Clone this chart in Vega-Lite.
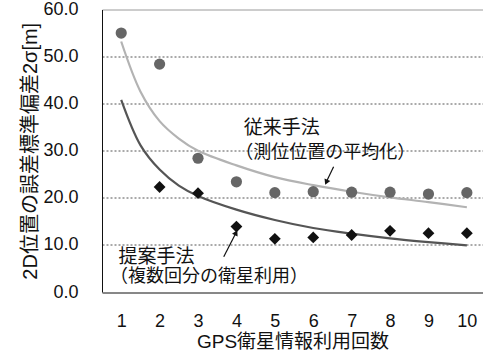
{
  "$schema": "https://vega.github.io/schema/vega-lite/v6.json",
  "autosize": {"type": "none"},
  "padding": {"left": 102, "top": 9.5, "right": 0, "bottom": 65},
  "width": 381,
  "height": 282.5,
  "background": "white",
  "config": {
    "font": "Liberation Sans, Noto Sans CJK JP",
    "view": {"stroke": null},
    "axis": {"labelFont": "Liberation Sans, Noto Sans CJK JP", "titleFont": "Liberation Sans, Noto Sans CJK JP", "labelColor": "#111", "titleColor": "#111", "titleFontWeight": "normal"}
  },
  "datasets": {
    "points": [
      {"series": "従来手法", "n": 1, "value": 55.0},
      {"series": "従来手法", "n": 2, "value": 48.4},
      {"series": "従来手法", "n": 3, "value": 28.4},
      {"series": "従来手法", "n": 4, "value": 23.4},
      {"series": "従来手法", "n": 5, "value": 21.1},
      {"series": "従来手法", "n": 6, "value": 21.3},
      {"series": "従来手法", "n": 7, "value": 21.2},
      {"series": "従来手法", "n": 8, "value": 21.2},
      {"series": "従来手法", "n": 9, "value": 20.8},
      {"series": "従来手法", "n": 10, "value": 21.1},
      {"series": "提案手法", "n": 2, "value": 22.3},
      {"series": "提案手法", "n": 3, "value": 21.0},
      {"series": "提案手法", "n": 4, "value": 13.9},
      {"series": "提案手法", "n": 5, "value": 11.3},
      {"series": "提案手法", "n": 6, "value": 11.6},
      {"series": "提案手法", "n": 7, "value": 12.1},
      {"series": "提案手法", "n": 8, "value": 13.0},
      {"series": "提案手法", "n": 9, "value": 12.5},
      {"series": "提案手法", "n": 10, "value": 12.5}
    ],
    "curves": [
      {"series": "従来手法", "n": 1, "value": 53.2},
      {"series": "従来手法", "n": 1.5, "value": 42.6},
      {"series": "従来手法", "n": 2, "value": 36.3},
      {"series": "従来手法", "n": 2.5, "value": 32.6},
      {"series": "従来手法", "n": 3, "value": 30.0},
      {"series": "従来手法", "n": 4, "value": 26.9},
      {"series": "従来手法", "n": 5, "value": 24.4},
      {"series": "従来手法", "n": 6, "value": 22.7},
      {"series": "従来手法", "n": 7, "value": 21.3},
      {"series": "従来手法", "n": 8, "value": 20.1},
      {"series": "従来手法", "n": 9, "value": 19.1},
      {"series": "従来手法", "n": 10, "value": 18.0},
      {"series": "提案手法", "n": 1, "value": 40.8},
      {"series": "提案手法", "n": 1.5, "value": 31.2},
      {"series": "提案手法", "n": 2, "value": 26.0},
      {"series": "提案手法", "n": 2.5, "value": 22.6},
      {"series": "提案手法", "n": 3, "value": 20.4},
      {"series": "提案手法", "n": 4, "value": 17.5},
      {"series": "提案手法", "n": 5, "value": 15.3},
      {"series": "提案手法", "n": 6, "value": 13.6},
      {"series": "提案手法", "n": 7, "value": 12.4},
      {"series": "提案手法", "n": 8, "value": 11.4},
      {"series": "提案手法", "n": 9, "value": 10.6},
      {"series": "提案手法", "n": 10, "value": 9.9}
    ]
  },
  "layer": [
    {
      "encoding": {
        "x": {
          "field": "n", "type": "quantitative",
          "scale": {"domain": [0.5, 10.42], "nice": false, "zero": false},
          "axis": {
            "title": "GPS衛星情報利用回数",
            "titleFontSize": 19,
            "titlePadding": 2,
            "values": [1, 1.5, 2, 2.5, 3, 3.5, 4, 4.5, 5, 5.5, 6, 6.5, 7, 7.5, 8, 8.5, 9, 9.5, 10],
            "labelExpr": "datum.value % 1 === 0 ? format(datum.value, 'd') : ''",
            "labelFontSize": 18,
            "labelPadding": 20,
            "labelFlush": false,
            "labelOverlap": false,
            "grid": false,
            "domain": false,
            "offset": -6,
            "tickColor": "#111",
            "tickSize": 6,
            "tickOpacity": {"condition": {"test": "datum.value % 1 !== 0", "value": 1}, "value": 0}
          }
        },
        "y": {
          "field": "value", "type": "quantitative",
          "scale": {"domain": [0, 60], "nice": false},
          "axis": {
            "title": "2D位置の誤差標準偏差2σ[m]",
            "titleFontSize": 20,
            "titlePadding": 2,
            "values": [0, 10, 20, 30, 40, 50, 60],
            "format": ".1f",
            "labelFontSize": 18,
            "labelPadding": 24,
            "labelBaseline": "middle",
            "ticks": false,
            "domainColor": "#111",
            "grid": true,
            "gridWidth": 1,
            "gridColor": {"condition": [
              {"test": "datum.value === 0", "value": "#111"},
              {"test": "datum.value === 60", "value": "#9a9a9a"}
            ], "value": "#555"},
            "gridDash": {"condition": {"test": "datum.value === 0 || datum.value === 60", "value": []}, "value": [2, 2]}
          }
        }
      },
      "layer": [
        {
          "data": {"name": "curves"},
          "transform": [{"filter": "datum.series === '従来手法'"}],
          "mark": {"type": "line", "interpolate": "catmull-rom", "color": "#b3b3b3", "strokeWidth": 2.2}
        },
        {
          "data": {"name": "curves"},
          "transform": [{"filter": "datum.series === '提案手法'"}],
          "mark": {"type": "line", "interpolate": "catmull-rom", "color": "#555555", "strokeWidth": 2.2}
        },
        {
          "data": {"name": "points"},
          "transform": [{"filter": "datum.series === '従来手法'"}],
          "mark": {"type": "point", "shape": "circle", "filled": true, "opacity": 1, "color": "#666666", "size": 125}
        },
        {
          "data": {"name": "points"},
          "transform": [{"filter": "datum.series === '提案手法'"}],
          "mark": {"type": "point", "shape": "diamond", "filled": true, "opacity": 1, "color": "#111111", "size": 140}
        }
      ]
    },
    {
      "data": {"values": [{"label": "従来手法"}]},
      "mark": {"type": "text", "align": "left", "baseline": "middle", "fontSize": 19, "color": "#111"},
      "encoding": {"x": {"datum": 4.19}, "y": {"datum": 34.8}, "text": {"field": "label"}}
    },
    {
      "data": {"values": [{"label": "（測位位置の平均化）"}]},
      "mark": {"type": "text", "align": "left", "baseline": "middle", "fontSize": 18, "color": "#111"},
      "encoding": {"x": {"datum": 3.97}, "y": {"datum": 29.5}, "text": {"field": "label"}}
    },
    {
      "data": {"values": [{"label": "提案手法"}]},
      "mark": {"type": "text", "align": "left", "baseline": "middle", "fontSize": 19, "color": "#111"},
      "encoding": {"x": {"datum": 0.93}, "y": {"datum": 7.5}, "text": {"field": "label"}}
    },
    {
      "data": {"values": [{"label": "（複数回分の衛星利用）"}]},
      "mark": {"type": "text", "align": "left", "baseline": "middle", "fontSize": 18, "color": "#111"},
      "encoding": {"x": {"datum": 0.71}, "y": {"datum": 3.25}, "text": {"field": "label"}}
    },
    {
      "data": {"values": [{}]},
      "mark": {"type": "rule", "color": "#111", "strokeWidth": 1.2},
      "encoding": {"x": {"datum": 6.53}, "y": {"datum": 26.6}, "x2": {"datum": 6.33}, "y2": {"datum": 23.2}}
    },
    {
      "data": {"values": [{}]},
      "mark": {"type": "point", "shape": "triangle-up", "filled": true, "opacity": 1, "color": "#111", "size": 40, "angle": 204},
      "encoding": {"x": {"datum": 6.34}, "y": {"datum": 23.3}}
    },
    {
      "data": {"values": [{}]},
      "mark": {"type": "rule", "color": "#111", "strokeWidth": 1.2},
      "encoding": {"x": {"datum": 3.67}, "y": {"datum": 7.5}, "x2": {"datum": 3.99}, "y2": {"datum": 12.6}}
    },
    {
      "data": {"values": [{}]},
      "mark": {"type": "point", "shape": "triangle-up", "filled": true, "opacity": 1, "color": "#111", "size": 40, "angle": 27},
      "encoding": {"x": {"datum": 3.99}, "y": {"datum": 12.6}}
    }
  ]
}
